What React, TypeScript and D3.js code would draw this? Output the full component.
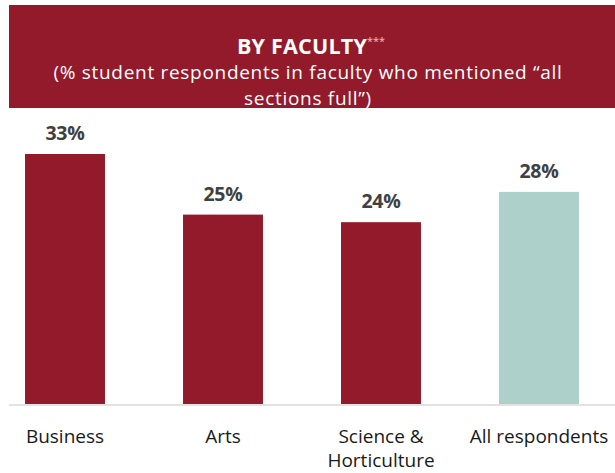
import React from "react";
import * as d3 from "d3";

const categories = ["Business", "Arts", "Science & Horticulture", "All respondents"];
const categoryLines = [["Business"], ["Arts"], ["Science &", "Horticulture"], ["All respondents"]];
const values = [33, 25, 24, 28];
const valueLabels = ["33%", "25%", "24%", "28%"];
const barColors = ["#921a2a", "#921a2a", "#921a2a", "#aed0cb"];
const titleText = "BY FACULTY";
const subtitleLines = ["(% student respondents in faculty who mentioned \u201call", "sections full\u201d)"];

const W = 615;
const H = 473;
const FONT = "'Open Sans', 'Noto Sans', sans-serif";

export default function App() {
  const x = d3
    .scaleBand<string>()
    .domain(categories)
    .range([-14, 618])
    .paddingInner(0.494)
    .paddingOuter(0.247);
  const y = d3.scaleLinear().domain([0, 33]).range([404, 154]);

  return (
    <svg
      width={W}
      height={H}
      style={{ position: "absolute", left: 0, top: 0, background: "#fff" }}
      fontFamily={FONT}
    >
      <rect x={9} y={5} width={W - 9} height={103} fill="#921a2a" />
      <text x={302} y={54} textAnchor="middle" fill="#fff" fontWeight="bold" fontSize={21.5} letterSpacing={0.2}>
        {titleText}
      </text>
      <text x={367} y={45} fill="#e6c3c8" fontSize={11}>***</text>
      {subtitleLines.map((l, i) => (
        <text key={i} x={308} y={79 + i * 26} textAnchor="middle" fill="#fff" fontSize={19} letterSpacing={0.7}>
          {l}
        </text>
      ))}
      {categories.map((c, i) => (
        <rect
          key={c}
          x={x(c)!}
          y={y(values[i])}
          width={x.bandwidth()}
          height={y(0) - y(values[i])}
          fill={barColors[i]}
        />
      ))}
      <line x1={9} x2={W} y1={405} y2={405} stroke="#d9d9d9" strokeWidth={1.5} />
      {categories.map((c, i) => (
        <text
          key={c}
          x={x(c)! + x.bandwidth() / 2}
          y={y(values[i]) - 14}
          textAnchor="middle"
          fill="#404040"
          fontWeight="bold"
          fontSize={19.5}
          letterSpacing={-0.3}
        >
          {valueLabels[i]}
        </text>
      ))}
      {categories.map((c, i) => (
        <text
          key={c}
          textAnchor="middle"
          fill="#1a1a1a"
          fontSize={19}
        >
          {categoryLines[i].map((l, j) => (
            <tspan key={j} x={x(c)! + x.bandwidth() / 2} y={443 + j * 24}>
              {l}
            </tspan>
          ))}
        </text>
      ))}
    </svg>
  );
}
